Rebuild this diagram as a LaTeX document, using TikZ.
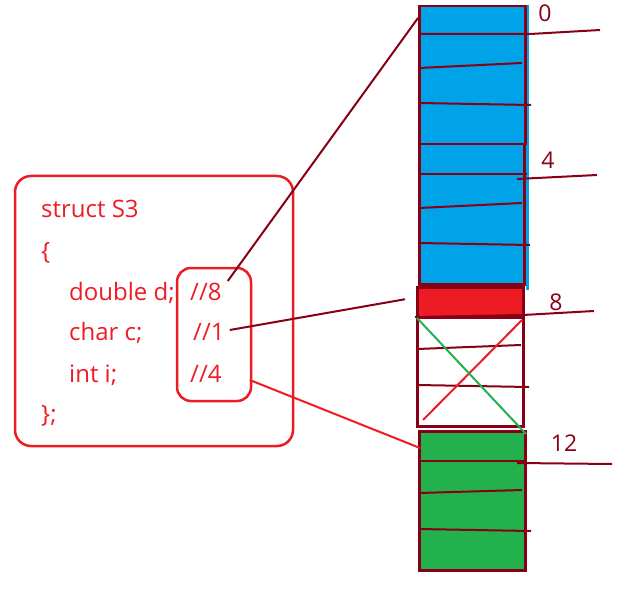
\documentclass[tikz,border=0pt]{standalone}
\usepackage{fontspec}
\setmainfont{Open Sans}
\usetikzlibrary{positioning, calc}
\definecolor{paintred}{RGB}{237, 28, 36}
\definecolor{paintdark}{RGB}{136, 0, 21}
\definecolor{paintblue}{RGB}{0, 162, 232}
\definecolor{paintgreen}{RGB}{34, 177, 76}
\tikzset{
  code/.style={
    anchor=base west,
    inner sep=0pt,
    font=\fontsize{24}{28}\selectfont,
    text=paintred
  },
  memcell/.style={
    draw=paintdark,
    line width=2.5pt,
    anchor=north west,
    inner sep=0pt
  },
  offset/.style={
    inner sep=0pt,
    font=\fontsize{23}{26}\selectfont,
    text=paintdark
  },
  tick/.style={
    draw=paintdark,
    line width=2pt
  },
  frame/.style={
    draw=paintred,
    line width=2.5pt,
    rounded corners=16pt
  }
}

\begin{document}
\begin{tikzpicture}[x=1pt, y=-1pt]
          \useasboundingbox (0,0) rectangle (620,601);
          % the struct source
          \draw[frame] (15,176) rectangle (293,446);
          \draw[frame, rounded corners=14pt] (177,268) rectangle (251,401);
          \node[code] (head) at (41,218) {struct S3};
          \node[code] (open) at (41,260) {\{};
          \node[code] (vd) at (69,300) {double d;};
          \node[code] (vc) at (69,340) {char c;};
          \node[code] (vi) at (69,382) {int i;};
          \node[code] (close) at (41,422) {\};};
          \node[code] (c8) at (190,300) {//8};
          \node[code] (c1) at (193,340) {//1};
          \node[code] (c4) at (190,382) {//4};

          % memory blocks
          \draw[paintblue, line width=3pt] (527,5) -- (527,290);
          \node[memcell, fill=paintblue, minimum width=106pt, minimum height=138pt] (dbl1) at (418,5) {};
          \node[memcell, fill=paintblue, minimum width=105pt, minimum height=140pt] (dbl2) at (418,143) {};
          \node[memcell, fill=paintred, minimum width=106pt, minimum height=30pt] (chr) at (416,286) {};
          \node[memcell, fill=white, minimum width=106pt, minimum height=109pt] (pad) at (416,316) {};
          \node[memcell, fill=paintgreen, minimum width=106pt, minimum height=139pt] (int) at (418,430) {};

          % byte lines
          \draw[tick] (421,34) -- (530,34) -- (600,30);
          \draw[tick] (419,68) -- (522,63);
          \draw[tick] (419,103) -- (531,105);
          \draw[tick] (420,174) -- (527,174);
          \draw[tick] (517,179) -- (597,175);
          \draw[tick] (419,208) -- (522,203);
          \draw[tick] (419,243) -- (530,245);
          \draw[tick] (415,317) -- (523,315) -- (594,311);
          \draw[tick] (417,349) -- (521,345);
          \draw[tick] (417,385) -- (529,387);
          \draw[tick] (420,461) -- (527,461);
          \draw[tick] (517,463) -- (612,464);
          \draw[tick] (419,493) -- (522,490);
          \draw[tick] (419,529) -- (531,531);

          % padding crossed out
          \draw[paintred, line width=2pt] (423,420) -- (522,320);
          \draw[paintgreen, line width=2pt] (417,318) -- (526,434);

          % offsets
          \node[offset] (o0) at (545,13) {0};
          \node[offset] (o4) at (548,160) {4};
          \node[offset] (o8) at (556,302) {8};
          \node[offset] (o12) at (564,443) {12};

          % links
          \draw[paintdark, line width=2pt] ($(c8.base east)+(6,-19)$) -- ($(dbl1.north west)+(0,13)$);
          \draw[paintdark, line width=2pt] ($(c1.base east)+(5,-10)$) -- ($(chr.west)+(-11,-3)$);
          \draw[paintred, line width=2pt] ($(c4.base east)+(28,-2)$) -- ($(int.north west)+(2,18)$);
        \end{tikzpicture}
\end{document}
